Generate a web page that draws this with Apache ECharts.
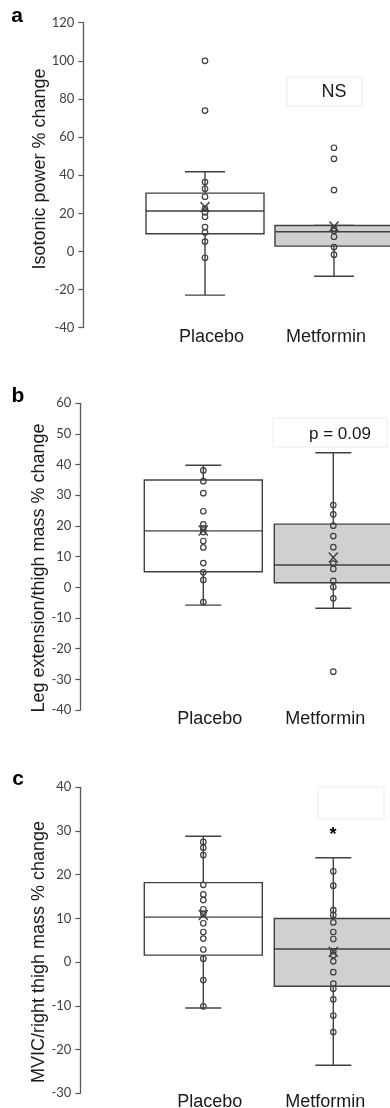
<!DOCTYPE html>
<html>
<head>
<meta charset="utf-8">
<script src="https://cdn.jsdelivr.net/npm/echarts@6/dist/echarts.min.js"></script>
<style>
html, body { margin: 0; padding: 0; background: #fff; }
#chart { width: 390px; height: 1108px; }
</style>
</head>
<body>
<div id="chart"></div>
<script>
var groups = ['Placebo', 'Metformin'];

// a - isotonic power: box = [min, q1, median, q3, max]
var boxA = [[-22.9, 9.3, 21.2, 30.6, 41.8], [-13, 2.8, 10.3, 13.6, 13.6]];
var meanA = [23.3, 13.1];
var placeboA = [100, 73.9, 36.4, 32.9, 28.7, 22.5, 20.5, 18.2, 12.8, 10, 5.2, -3.3];
var metforminA = [54.4, 48.6, 32.2, 12, 10.8, 7.7, 2.3, -1.7];
var rangeA = [-40, 120, 20];

// b - leg extension / thigh mass
var boxB = [[-5.8, 5.1, 18.4, 35, 39.8], [-6.8, 1.5, 7.3, 20.6, 43.9]];
var meanB = [18.5, 9.7];
var placeboB = [38.1, 34.6, 30.7, 24.8, 20.5, 19.2, 18, 15.1, 13, 7.9, 4.9, 2.4, -4.8];
var metforminB = [26.8, 23.8, 20.1, 16.7, 13.1, 7.7, 6, 2.1, 0.1, -3.6, -27.5];
var rangeB = [-40, 60, 10];

// c - MVIC / right thigh mass
var boxC = [[-10.5, 1.6, 10.3, 18.2, 28.8], [-23.6, -5.5, 3.0, 10, 23.9]];
var meanC = [10.8, 2.4];
var placeboC = [27.5, 26.2, 24.5, 17.7, 15.5, 14.2, 12.1, 11.1, 8.9, 6.9, 5.4, 2.9, 0.8, -4.1, -10.1];
var metforminC = [20.8, 17.5, 11.9, 10.8, 9.1, 6.9, 5.3, 2.5, 1.6, 0.2, -2.3, -4.9, -6.1, -8.5, -12.2, -16];
var rangeC = [-30, 40, 10];

var EDGE = '#404040';
var FILLS = ['#ffffff', '#d0d0d0'];
var BOX_W = 118;
var SANS = '"Liberation Sans", Arial, sans-serif';

var page = {
    init: function () {
        var chart = echarts.init(document.getElementById('chart'), null, { renderer: 'canvas' });
        var panels = [
            { box: boxA, mean: meanA, pts: [placeboA, metforminA], range: rangeA, cap: 40,
              grid: { left: 140.5, top: 22.7, width: 258, height: 305 }, axisX: 83.3 },
            { box: boxB, mean: meanB, pts: [placeboB, metforminB], range: rangeB, cap: 36,
              grid: { left: 138.3, top: 403.3, width: 260, height: 306.7 }, axisX: 80.3 },
            { box: boxC, mean: meanC, pts: [placeboC, metforminC], range: rangeC, cap: 36,
              grid: { left: 138.3, top: 787.3, width: 260, height: 306 }, axisX: 80.3 }
        ];
        var option = { animation: false, backgroundColor: '#fff', grid: [], xAxis: [], yAxis: [], series: [] };
        var self = this;
        panels.forEach(function (p, i) {
            // the metformin box runs off the right edge, so don't let the grid get squeezed in
            p.grid.outerBoundsMode = 'none';
            p.grid.containLabel = false;
            option.grid.push(p.grid);
            option.xAxis.push({
                type: 'category', gridIndex: i, data: groups,
                axisLine: { show: false }, axisTick: { show: false },
                axisLabel: {
                    margin: 0,
                    // labels sit a little inward of the box centres
                    formatter: function (v, idx) { return '{' + (idx === 0 ? 'l' : 'r') + '|' + v + '}'; },
                    rich: {
                        l: { fontSize: 18, color: '#1a1a1a', fontFamily: SANS, padding: [0, 0, 0, 13] },
                        r: { fontSize: 18, color: '#1a1a1a', fontFamily: SANS, padding: [0, 16, 0, 0] }
                    }
                }
            });
            option.yAxis.push({
                type: 'value', gridIndex: i,
                min: p.range[0], max: p.range[1], interval: p.range[2],
                offset: p.grid.left - p.axisX,
                splitLine: { show: false },
                axisLine: { show: true, lineStyle: { color: '#595959', width: 1.3 } },
                axisTick: { show: true, length: 5, lineStyle: { color: '#595959', width: 1.2 } },
                axisLabel: { fontSize: 13, color: '#404040', fontFamily: 'Lato, sans-serif', margin: 9 }
            });
            var boxData = p.box.map(function (b, k) {
                return [k].concat(b).concat([p.mean[k]]);
            });
            option.series.push({
                type: 'custom', xAxisIndex: i, yAxisIndex: i,
                encode: { x: 0, y: [1, 2, 3, 4, 5, 6] },
                renderItem: self.boxItem(p.cap),
                data: boxData
            });
            var dots = [];
            p.pts.forEach(function (arr, k) {
                arr.forEach(function (v) { dots.push([k, v]); });
            });
            option.series.push({
                type: 'scatter', xAxisIndex: i, yAxisIndex: i,
                symbol: 'circle', symbolSize: 5.5,
                itemStyle: { color: 'rgba(0,0,0,0)', borderColor: EDGE, borderWidth: 1.2, opacity: 1 },
                data: dots
            });
        });
        option.graphic = this.labels();
        chart.setOption(option);
    },
    boxItem: function (capW) {
        return function (params, api) {
            var c = api.value(0);
            var lo = api.coord([c, api.value(1)]);
            var q1 = api.coord([c, api.value(2)]);
            var md = api.coord([c, api.value(3)]);
            var q3 = api.coord([c, api.value(4)]);
            var hi = api.coord([c, api.value(5)]);
            var mn = api.coord([c, api.value(6)]);
            var x = lo[0], h = BOX_W / 2, k = capW / 2, mx = 4.5, my = 5;
            function ln(x1, y1, x2, y2) {
                return { type: 'line', shape: { x1: x1, y1: y1, x2: x2, y2: y2 },
                         style: { stroke: EDGE, lineWidth: 1.4 } };
            }
            return {
                type: 'group',
                children: [
                    ln(x, lo[1], x, hi[1]),
                    ln(x - k, lo[1], x + k, lo[1]),
                    ln(x - k, hi[1], x + k, hi[1]),
                    { type: 'rect', shape: { x: x - h, y: q3[1], width: BOX_W, height: q1[1] - q3[1] },
                      style: { fill: FILLS[c], stroke: EDGE, lineWidth: 1.4 } },
                    ln(x - h, md[1], x + h, md[1]),
                    ln(x - mx, mn[1] - my, x + mx, mn[1] + my),
                    ln(x - mx, mn[1] + my, x + mx, mn[1] - my)
                ]
            };
        };
    },
    labels: function () {
        function txt(x, y, s, size, extra) {
            var el = { type: 'text', x: x, y: y, z: 10,
                       style: { text: s, fontSize: size, fontFamily: SANS, fill: '#1a1a1a',
                                align: 'center', verticalAlign: 'middle' } };
            if (extra) { for (var key in extra) { el[key] = extra[key]; } }
            return el;
        }
        function frame(x, y, w, h) {
            return { type: 'rect', z: 9, shape: { x: x, y: y, width: w, height: h },
                     style: { fill: 'none', stroke: '#ececec', lineWidth: 1 } };
        }
        var bold = function (el) { el.style.fontWeight = 'bold'; el.style.fill = '#000'; return el; };
        return [
            bold(txt(17, 16.7, 'a', 21)),
            bold(txt(18, 396, 'b', 21)),
            bold(txt(18, 779.5, 'c', 21)),
            txt(40, 169, 'Isotonic power % change', 18, { rotation: Math.PI / 2 }),
            txt(39, 568, 'Leg extension/thigh mass % change', 18, { rotation: Math.PI / 2 }),
            txt(39, 952, 'MVIC/right thigh mass % change', 18, { rotation: Math.PI / 2 }),
            frame(287, 77, 75, 29),
            txt(334, 92.5, 'NS', 18),
            frame(273, 418, 114, 29),
            txt(340, 434, 'p = 0.09', 17),
            frame(318, 787, 66, 32),
            bold(txt(333, 835, '*', 18))
        ];
    }
};
page.init();
</script>
</body>
</html>
